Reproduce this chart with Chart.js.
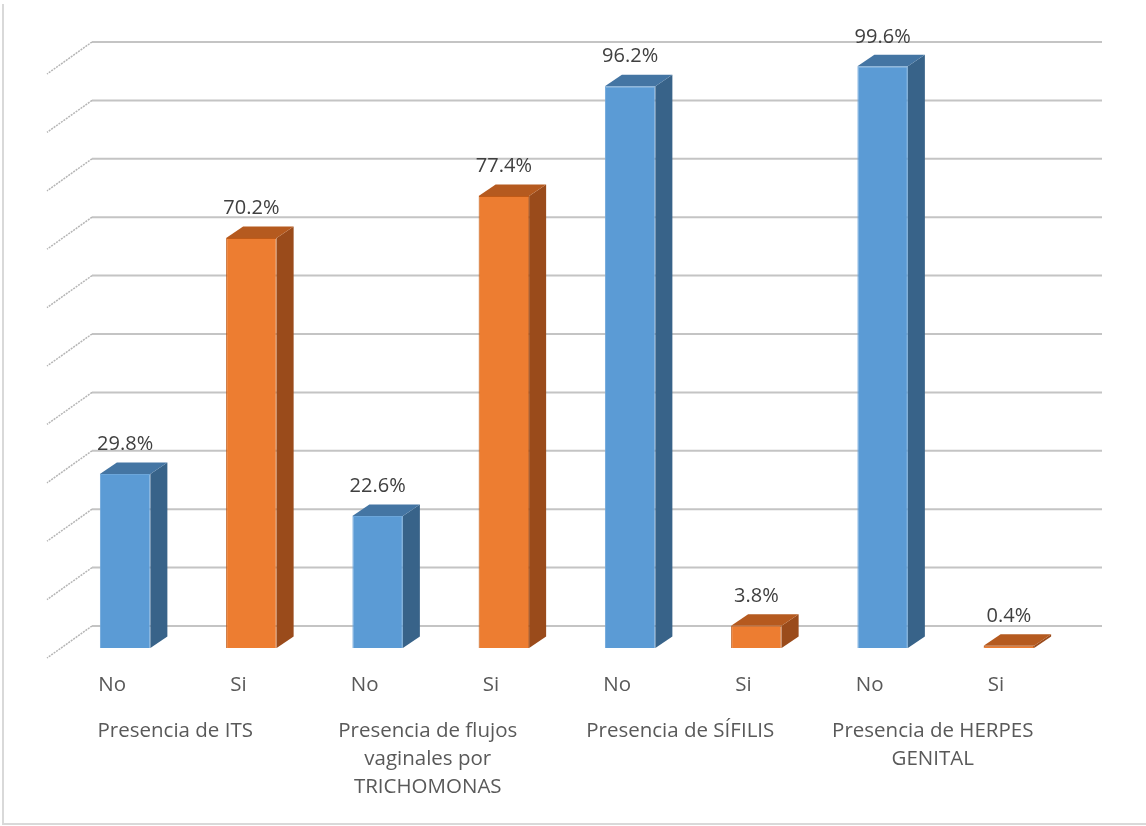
<!DOCTYPE html>
<html>
<head>
<meta charset="utf-8">
<script src="https://cdn.jsdelivr.net/npm/chart.js@4.4.1/dist/chart.umd.min.js"></script>
<style>
  html, body { margin: 0; padding: 0; background: #ffffff; }
  #wrap { position: relative; width: 1146px; height: 826px; }
  canvas { display: block; }
</style>
</head>
<body>
<div id="wrap"><canvas id="c" width="1146" height="826"></canvas></div>
<script>
// Categories and values (percent)
const groups = [
  ["Presencia de ITS"],
  ["Presencia de flujos", "vaginales por", "TRICHOMONAS"],
  ["Presencia de SÍFILIS"],
  ["Presencia de HERPES", "GENITAL"]
];
const answers = ["No", "Si"];
const noValues = [29.8, 22.6, 96.2, 99.6];
const siValues = [70.2, 77.4, 3.8, 0.4];
const yTicks = [0, 10, 20, 30, 40, 50, 60, 70, 80, 90, 100];

// Flatten into one bar per answer
const barLabels = [];
const barValues = [];
const barKind = [];
groups.forEach((g, i) => {
  barLabels.push(answers[0]); barValues.push(noValues[i]); barKind.push(0);
  barLabels.push(answers[1]); barValues.push(siValues[i]); barKind.push(1);
});

const palette = [
  { front: "#5B9BD5", border: "#6CA6DA", top: "#4475A3", side: "#386389" },
  { front: "#ED7D31", border: "#C15A16", top: "#B55A1F", side: "#9A4B1B" }
];

const DEPTH_X = 17, DEPTH_Y = -11.5;     // bar depth
const WALL_X = 30, WALL_Y = -22;         // back wall offset
const FONT = "'Open Sans', 'Noto Sans', sans-serif";

const box3d = {
  id: "box3d",
  beforeDatasetsDraw(chart) {
    const ctx = chart.ctx;
    const y = chart.scales.y;
    const area = chart.chartArea;
    ctx.save();
    // chart frame
    ctx.strokeStyle = "#D9D9D9";
    ctx.lineWidth = 2;
    ctx.beginPath();
    ctx.moveTo(3, 4);
    ctx.lineTo(3, 824);
    ctx.lineTo(1146, 824);
    ctx.stroke();
    yTicks.forEach(v => {
      const py = y.getPixelForValue(v) + WALL_Y;
      const x0 = area.left + WALL_X;
      const x1 = area.right + WALL_X;
      ctx.strokeStyle = "#C4C4C4";
      ctx.lineWidth = 2;
      ctx.setLineDash([]);
      ctx.beginPath();
      ctx.moveTo(x0, py);
      ctx.lineTo(x1, py);
      ctx.stroke();
      ctx.strokeStyle = "#B5B5B5";
      ctx.lineWidth = 1.5;
      ctx.setLineDash([2, 1]);
      ctx.beginPath();
      ctx.moveTo(x0, py);
      ctx.lineTo(x0 - 45, py + 32);
      ctx.stroke();
    });
    ctx.restore();
  },
  afterDatasetsDraw(chart) {
    const ctx = chart.ctx;
    const meta = chart.getDatasetMeta(0);
    ctx.save();
    meta.data.forEach((bar, i) => {
      const p = palette[barKind[i]];
      const half = bar.width / 2;
      const l = bar.x - half, r = bar.x + half;
      const t = bar.y, b = bar.base;
      // side face
      ctx.fillStyle = p.side;
      ctx.beginPath();
      ctx.moveTo(r, t);
      ctx.lineTo(r + DEPTH_X, t + DEPTH_Y);
      ctx.lineTo(r + DEPTH_X, b + DEPTH_Y);
      ctx.lineTo(r, b);
      ctx.closePath();
      ctx.fill();
      // top face
      ctx.fillStyle = p.top;
      ctx.beginPath();
      ctx.moveTo(l, t);
      ctx.lineTo(l + DEPTH_X, t + DEPTH_Y);
      ctx.lineTo(r + DEPTH_X, t + DEPTH_Y);
      ctx.lineTo(r, t);
      ctx.closePath();
      ctx.fill();
      // value label
      ctx.fillStyle = "#404040";
      ctx.font = "20px " + FONT;
      ctx.textAlign = "center";
      ctx.textBaseline = "middle";
      ctx.fillText(barValues[i].toFixed(1) + "%", bar.x, t + DEPTH_Y - 18);
    });

    // category labels
    const x = chart.scales.x;
    ctx.fillStyle = "#595959";
    ctx.font = "20.5px " + FONT;
    ctx.textAlign = "center";
    ctx.textBaseline = "middle";
    barLabels.forEach((lab, i) => {
      ctx.fillText(lab, x.getPixelForValue(i) - 13, 685);
    });
    groups.forEach((lines, g) => {
      const cx = (x.getPixelForValue(2 * g) + x.getPixelForValue(2 * g + 1)) / 2 - 13;
      lines.forEach((ln, k) => ctx.fillText(ln, cx, 731 + k * 28));
    });
    ctx.restore();
  }
};

new Chart(document.getElementById("c"), {
  type: "bar",
  data: {
    labels: barLabels,
    datasets: [{
      data: barValues,
      backgroundColor: barKind.map(k => palette[k].front),
      borderColor: barKind.map(k => palette[k].border),
      borderWidth: 1,
      barPercentage: 0.4,
      categoryPercentage: 1
    }]
  },
  options: {
    responsive: false,
    animation: false,
    layout: { padding: { left: 62, right: 74, top: 64, bottom: 178 } },
    plugins: { legend: { display: false }, tooltip: { enabled: false } },
    scales: {
      x: { display: false },
      y: { display: false, min: 0, max: 100 }
    }
  },
  plugins: [box3d]
});
</script>
</body>
</html>
